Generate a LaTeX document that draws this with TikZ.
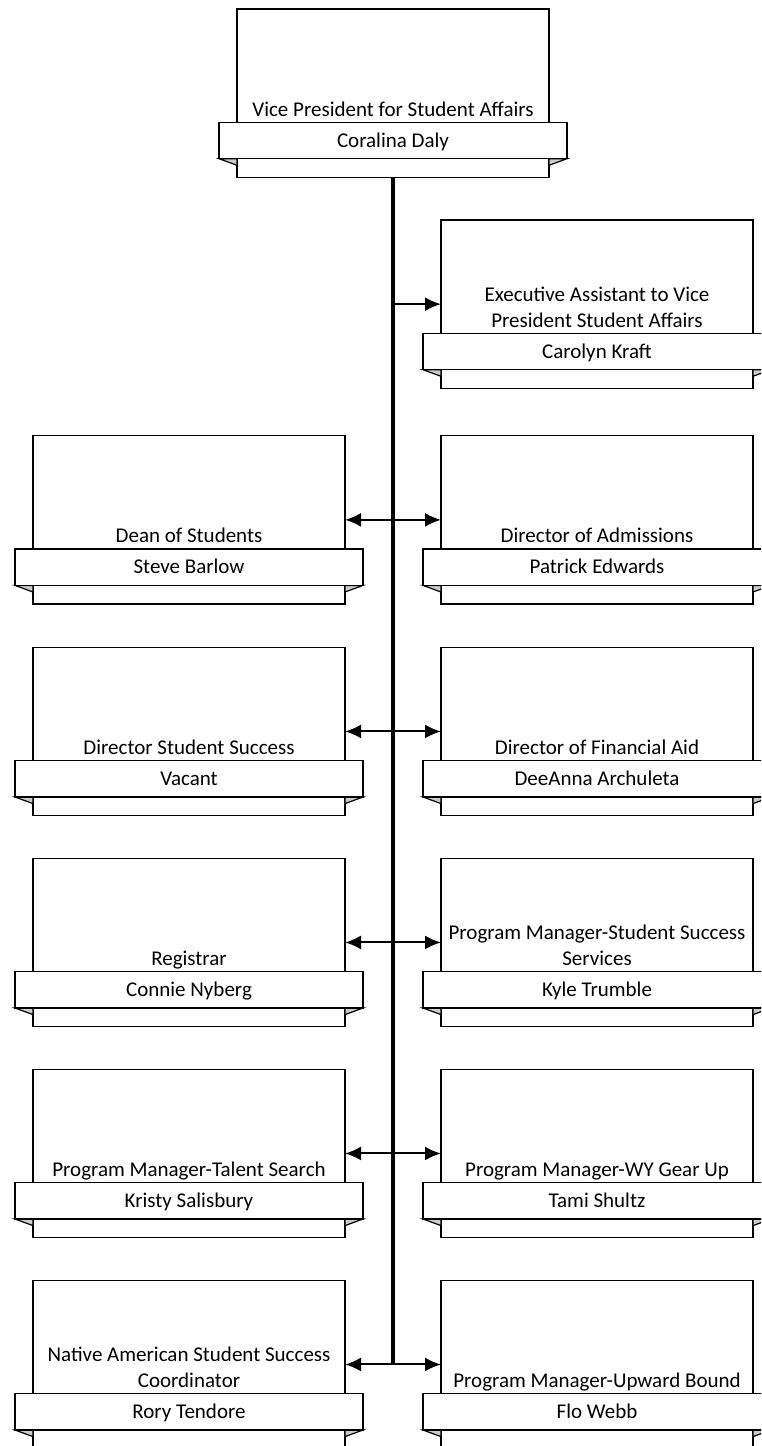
\documentclass[tikz,border=0pt]{standalone}
\usepackage{fontspec}
\setmainfont{Carlito}
\usetikzlibrary{arrows.meta,calc}
\tikzset{
  card/.style={draw, line width=1.2pt, fill=white, minimum width=312pt, minimum height=168.3pt, inner sep=0pt, outer sep=0pt},
  banner/.style={draw, line width=1.2pt, fill=white, minimum width=348pt, minimum height=36.4pt, inner sep=0pt, outer sep=0pt},
  fold/.style={draw, line width=1.2pt, fill=gray!40, line join=miter},
  ttl/.style={font=\fontsize{21}{26}\selectfont, align=center, anchor=south, inner sep=0pt, text depth=0pt},
  who/.style={font=\fontsize{21}{26}\selectfont, anchor=base, inner sep=0pt},
  trunk/.style={line width=3.5pt},
  link/.style={line width=2pt, -{Latex[length=16pt,width=14pt]}}
}
\newcommand\orgcard[5]{%
  \node[card] (#1) at (#2, #3+84.15) {};
  \node[ttl] (#1t) at (#2, #3+107.3) {#4};
  \filldraw[fold] ($(#1.west |- 0,#3+149.7)+(-18,0)$) -- (#1.west |- 0,#3+149.7) -- (#1.west |- 0,#3+156.3) -- cycle;
  \filldraw[fold] ($(#1.east |- 0,#3+149.7)+(18,0)$) -- (#1.east |- 0,#3+149.7) -- (#1.east |- 0,#3+156.3) -- cycle;
  \node[banner] (#1b) at (#2, #3+131.5) {};
  \node[who] (#1n) at (#2, #3+138) {#5};
}
\begin{document}
\begin{tikzpicture}[x=1pt,y=-1pt]
\useasboundingbox (0,0) rectangle (761,1446);
\clip (0,0) rectangle (761,1446);
\orgcard{vp}{393}{9}{Vice President for Student Affairs}{Coralina Daly}
\orgcard{ea}{597}{220}{Executive Assistant to Vice\\President Student Affairs}{Carolyn Kraft}
\orgcard{dean}{189}{435.7}{Dean of Students}{Steve Barlow}
\orgcard{adm}{597}{435.7}{Director of Admissions}{Patrick Edwards}
\orgcard{dss}{189}{647.3}{Director Student Success}{Vacant}
\orgcard{fin}{597}{647.3}{Director of Financial Aid}{DeeAnna Archuleta}
\orgcard{reg}{189}{858.3}{Registrar}{Connie Nyberg}
\orgcard{sss}{597}{858.3}{Program Manager-Student Success\\Services}{Kyle Trumble}
\orgcard{tal}{189}{1069.3}{Program Manager-Talent Search}{Kristy Salisbury}
\orgcard{gear}{597}{1069.3}{Program Manager-WY Gear Up}{Tami Shultz}
\orgcard{nas}{189}{1280.3}{Native American Student Success\\Coordinator}{Rory Tendore}
\orgcard{ub}{597}{1280.3}{Program Manager-Upward Bound}{Flo Webb}
% junctions on the trunk
\coordinate (j0) at (vp.south |- ea.west);
\coordinate (j1) at (vp.south |- dean.east);
\coordinate (j2) at (vp.south |- dss.east);
\coordinate (j3) at (vp.south |- reg.east);
\coordinate (j4) at (vp.south |- tal.east);
\coordinate (j5) at (vp.south |- nas.east);
\draw[trunk] (vp.south) -- (j5);
\draw[link] (j0) -- (ea.west);
\draw[link] (j1) -- (dean.east);
\draw[link] (j1) -- (adm.west);
\draw[link] (j2) -- (dss.east);
\draw[link] (j2) -- (fin.west);
\draw[link] (j3) -- (reg.east);
\draw[link] (j3) -- (sss.west);
\draw[link] (j4) -- (tal.east);
\draw[link] (j4) -- (gear.west);
\draw[link] (j5) -- (nas.east);
\draw[link] (j5) -- (ub.west);
\end{tikzpicture}
\end{document}
